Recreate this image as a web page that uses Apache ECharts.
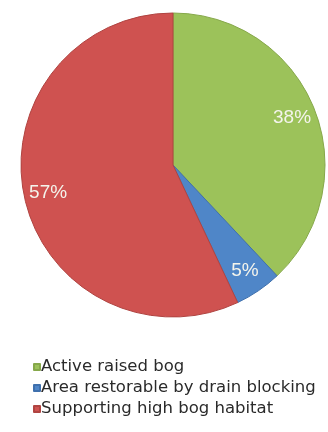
<!DOCTYPE html>
<html>
<head>
<meta charset="utf-8">
<script src="https://cdn.jsdelivr.net/npm/echarts@6/dist/echarts.min.js"></script>
<style>
  html, body { margin: 0; padding: 0; background: #ffffff; }
  #chart { width: 328px; height: 432px; }
</style>
</head>
<body>
<div id="chart"></div>
<script>
// Raised bog composition (share of total area, %)
const categories = ['Active raised bog', 'Area restorable by drain blocking', 'Supporting high bog habitat'];
const shares = [38, 5, 57];
const sliceColors = ['#9cc25a', '#4f86c8', '#cf5250'];
const sliceBorders = ['#86a84a', '#3f70ad', '#b04441'];

const pieData = categories.map((name, i) => ({
  name: name,
  value: shares[i],
  itemStyle: { color: sliceColors[i], borderColor: sliceBorders[i] }
}));

const chart = echarts.init(document.getElementById('chart'), null, { renderer: 'canvas' });

chart.setOption({
  animation: false,
  backgroundColor: '#ffffff',
  legend: {
    orient: 'vertical',
    left: 28,
    top: 352,
    itemWidth: 6,
    itemHeight: 6,
    itemGap: 1,
    icon: 'rect',
    data: categories,
    textStyle: {
      fontFamily: 'DejaVu Sans, sans-serif',
      fontSize: 16.5,
      lineHeight: 20,
      color: '#2a2a2a',
      padding: [0, 0, 0, -4]
    }
  },
  series: [
    {
      // filled slices
      type: 'pie',
      center: [173, 165],
      radius: [0, 152],
      startAngle: 90,
      clockwise: true,
      silent: true,
      itemStyle: { borderWidth: 1 },
      label: { show: false },
      labelLine: { show: false },
      data: pieData
    },
    {
      // transparent ring that carries the percentage labels near the rim
      type: 'pie',
      center: [173, 165],
      radius: [98, 152],
      startAngle: 90,
      clockwise: true,
      silent: true,
      itemStyle: { color: 'rgba(0,0,0,0)', borderWidth: 0 },
      label: {
        show: true,
        position: 'inside',
        formatter: '{c}%',
        fontFamily: 'Liberation Sans, Arial, sans-serif',
        fontSize: 19,
        color: '#f4f4ec'
      },
      labelLine: { show: false },
      data: categories.map((name, i) => ({ name: name, value: shares[i] }))
    }
  ]
});
</script>
</body>
</html>
